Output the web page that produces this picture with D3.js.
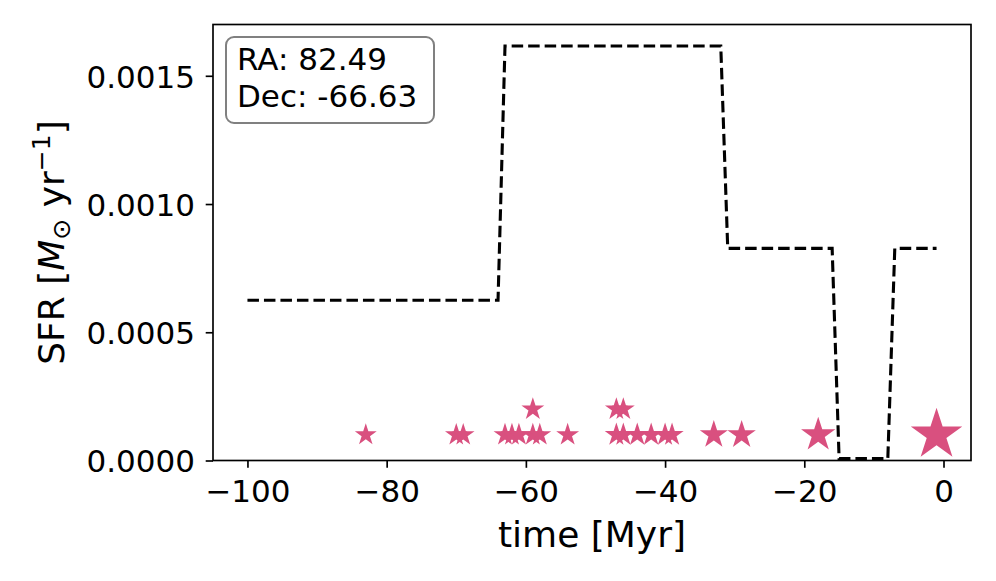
<!DOCTYPE html>
<html><head><meta charset="utf-8">
<script src="https://cdn.jsdelivr.net/npm/d3@7"></script>
<style>
body{margin:0;background:#fff}
svg{display:block}
text{font-family:"DejaVu Sans",sans-serif;fill:#000}
</style>
</head><body>
<svg id="chart" width="996" height="581"></svg>
<script>
// ---- data ----
const sfhTime = [-100, -64, -63, -32, -31, -16, -15, -8, -7, -1];
const sfhRate = [0.000625, 0.000625, 0.001616, 0.001616, 0.000827, 0.000827, 0.000008, 0.000008, 0.000827, 0.000827];

const starTime  = [-83, -70, -69, -63, -62, -61, -59, -58, -59, -54, -47, -46, -44, -42, -40, -39, -47, -46, -33, -29, -18, -1];
const starLevel = [0.0001, 0.0001, 0.0001, 0.0001, 0.0001, 0.0001, 0.0001, 0.0001, 0.0002, 0.0001, 0.0001, 0.0001, 0.0001, 0.0001, 0.0001, 0.0001, 0.0002, 0.0002, 0.0001, 0.0001, 0.0001, 0.0001];
const starArea  = [122, 130, 130, 133, 133, 133, 133, 133, 133, 133, 138, 138, 138, 138, 138, 138, 133, 133, 200, 205, 300, 675];

const xTicks = [-100, -80, -60, -40, -20, 0];
const yTicks = [0, 0.0005, 0.0010, 0.0015];
const infoLines = ["RA: 82.49", "Dec: -66.63"];
const xLabel = "time [Myr]";

// ---- layout ----
const L = 213, R = 971, T = 24.5, B = 460.5;
const svg = d3.select("#chart");

const x = d3.scaleLinear().domain([-104.95, 3.95]).range([L, R]);
const y = d3.scaleLinear().domain([0, 0.0017]).range([B, T]);
const pt = 150 / 72;
const rStar = d3.scaleSqrt().domain([0, 1]).range([0, 0.5 * pt]);

// step line
const line = d3.line().x((d, i) => x(sfhTime[i])).y((d, i) => y(sfhRate[i]));
svg.append("path")
  .attr("d", line(sfhTime))
  .attr("fill", "none")
  .attr("stroke", "#000")
  .attr("stroke-width", 3.1)
  .attr("stroke-dasharray", "11.5,5");

// stars
const ka = 0.89081309152928522810;
svg.append("g").selectAll("path")
  .data(starTime.map((t, i) => ({t, v: starLevel[i], s: starArea[i]})))
  .join("path")
  .attr("transform", d => `translate(${x(d.t)},${y(d.v)})`)
  .attr("d", d => { const r = rStar(d.s); return d3.symbol().type(d3.symbolStar).size(r * r / ka)(); })
  .attr("fill", "#d9507f");

// frame
svg.append("rect")
  .attr("x", L).attr("y", T).attr("width", R - L).attr("height", B - T)
  .attr("fill", "none").attr("stroke", "#000").attr("stroke-width", 1.67);

// x axis
const gx = svg.append("g").attr("transform", `translate(0,${B})`)
  .call(d3.axisBottom(x).tickValues(xTicks).tickSize(7.3).tickPadding(0).tickFormat(d3.format("d")));
gx.select(".domain").remove();
gx.selectAll(".tick line").attr("stroke", "#000").attr("stroke-width", 1.67);
gx.selectAll(".tick text")
  .attr("y", 41.2).attr("dy", 0)
  .attr("font-size", 31).attr("font-family", "DejaVu Sans");

// y axis
const gy = svg.append("g").attr("transform", `translate(${L},0)`)
  .call(d3.axisLeft(y).tickValues(yTicks).tickSize(7.3).tickPadding(0).tickFormat(d3.format(".4f")));
gy.select(".domain").remove();
gy.selectAll(".tick line").attr("stroke", "#000").attr("stroke-width", 1.67);
gy.selectAll(".tick text")
  .attr("x", -18).attr("dy", 11.3)
  .attr("font-size", 31).attr("font-family", "DejaVu Sans");

// x label
svg.append("text")
  .attr("x", (L + R) / 2).attr("y", 546.5)
  .attr("text-anchor", "middle")
  .attr("font-size", 36)
  .text(xLabel);

// y label with math
const yl = svg.append("text")
  .attr("transform", `translate(63.5,${(T + B) / 2}) rotate(-90)`)
  .attr("text-anchor", "middle")
  .attr("font-size", 36);
yl.append("tspan").text("SFR [");
yl.append("tspan").attr("font-style", "italic").text("M");
yl.append("tspan").attr("font-size", 25).attr("dy", 6).text("\u2299");
yl.append("tspan").attr("dy", -6).text(" yr");
yl.append("tspan").attr("font-size", 25).attr("dy", -14).text("\u22121");
yl.append("tspan").attr("dy", 14).text("]");

// info box
svg.append("rect")
  .attr("x", 226).attr("y", 37).attr("width", 208).attr("height", 86)
  .attr("rx", 8).attr("ry", 8)
  .attr("fill", "#fff").attr("stroke", "#808080").attr("stroke-width", 2);
svg.append("g").selectAll("text")
  .data(infoLines)
  .join("text")
  .attr("x", 237).attr("y", (d, i) => 70 + i * 36.7)
  .attr("font-size", 31)
  .text(d => d);
</script>
</body></html>
